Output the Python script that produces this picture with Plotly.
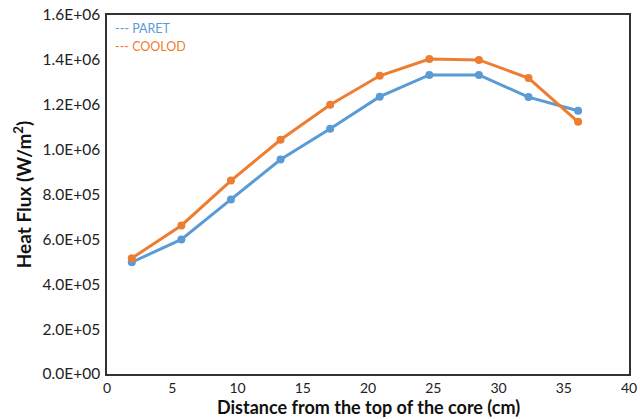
import plotly.graph_objects as go

x_cm = [1.9, 5.7, 9.5, 13.3, 17.1, 20.9, 24.7, 28.5, 32.3, 36.1]
paret = [4.98e5, 6.00e5, 7.78e5, 9.56e5, 10.93e5, 12.36e5, 13.33e5, 13.33e5, 12.34e5, 11.73e5]
coolod = [5.16e5, 6.62e5, 8.62e5, 10.44e5, 12.00e5, 13.29e5, 14.04e5, 14.00e5, 13.19e5, 11.24e5]

y_ticks = [0, 2e5, 4e5, 6e5, 8e5, 1.0e6, 1.2e6, 1.4e6, 1.6e6]
y_labels = ["0.0E+00", "2.0E+05", "4.0E+05", "6.0E+05", "8.0E+05", "1.0E+06", "1.2E+06", "1.4E+06", "1.6E+06"]
x_ticks = [0, 5, 10, 15, 20, 25, 30, 35, 40]

blue = "#5B9BD5"
orange = "#ED7D31"
font = "Lato, Open Sans, sans-serif"

fig = go.Figure()
fig.add_trace(go.Scatter(x=x_cm, y=paret, mode="lines+markers", name="PARET",
                         line=dict(color=blue, width=3), marker=dict(size=8, color=blue)))
fig.add_trace(go.Scatter(x=x_cm, y=coolod, mode="lines+markers", name="COOLOD",
                         line=dict(color=orange, width=3), marker=dict(size=8, color=orange)))

fig.add_annotation(xref="paper", yref="paper", x=0.012, y=0.99, xanchor="left", yanchor="top",
                   text="--- PARET", showarrow=False, font=dict(family=font, size=12.5, color=blue))
fig.add_annotation(xref="paper", yref="paper", x=0.012, y=0.94, xanchor="left", yanchor="top",
                   text="--- COOLOD", showarrow=False, font=dict(family=font, size=12.5, color=orange))
# x-axis title placed at the bottom of the page
fig.add_annotation(xref="paper", yref="paper", x=0.5, y=-0.1255, xanchor="center", yanchor="bottom",
                   text="<b>Distance from the top of the core (cm)</b>", showarrow=False, borderpad=0,
                   font=dict(family=font, size=18, color="#111"))

fig.update_layout(
    width=640, height=419,
    margin=dict(l=107, r=11, t=15, b=45, autoexpand=False),
    paper_bgcolor="white", plot_bgcolor="white",
    showlegend=False,
    font=dict(family=font, size=14, color="#222"),
    xaxis=dict(range=[0, 40], tickvals=x_ticks, showgrid=False, zeroline=False, automargin=False,
               showline=True, linecolor="#333", linewidth=1.5, mirror=True, ticks="",
               ticklabelstandoff=0),
    yaxis=dict(range=[0, 1.6e6], tickvals=y_ticks, ticktext=y_labels, showgrid=False, zeroline=False,
               automargin=False, tickfont=dict(family=font, size=15.5, color="#222"),
               showline=True, linecolor="#333", linewidth=1.5, mirror=True, ticks="",
               ticklabelstandoff=2,
               title=dict(text="<b>Heat Flux (W/m<sup>2</sup>)</b>", standoff=6,
                          font=dict(family=font, size=19, color="#111"))),
)

fig.write_html("out.html")
